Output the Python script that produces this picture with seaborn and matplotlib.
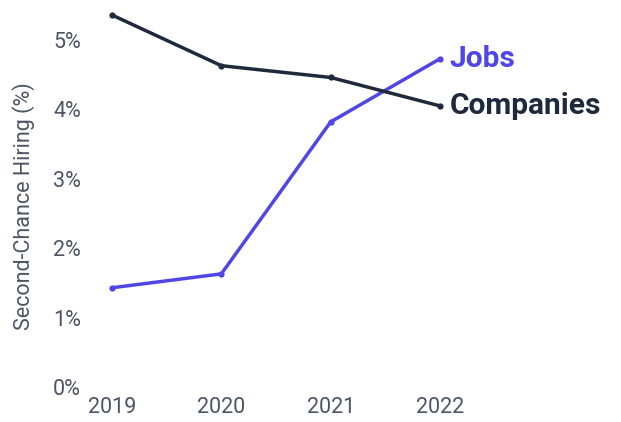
import matplotlib
matplotlib.use("Agg")
import matplotlib.pyplot as plt
import seaborn as sns
import pandas as pd

years = [2019, 2020, 2021, 2022]
jobs = [1.43, 1.63, 3.82, 4.73]
companies = [5.36, 4.63, 4.46, 4.05]
y_ticks = [0, 1, 2, 3, 4, 5]
y_tick_labels = ["0%", "1%", "2%", "3%", "4%", "5%"]

JOBS_COLOR = "#4f46e5"
COMP_COLOR = "#1e293b"
TICK_COLOR = "#4b5563"

df = pd.DataFrame({
    "year": years * 2,
    "value": jobs + companies,
    "series": ["Jobs"] * len(years) + ["Companies"] * len(years),
})

sns.set_style("white")
plt.rcParams["font.family"] = ["Roboto", "DejaVu Sans"]

fig = plt.figure(figsize=(6.21, 4.22), dpi=100)
ax = fig.add_axes([95 / 621, 35 / 422, 520 / 621, 377 / 422])

sns.lineplot(
    data=df, x="year", y="value", hue="series",
    palette={"Jobs": JOBS_COLOR, "Companies": COMP_COLOR},
    marker="o", markersize=4.5, markeredgewidth=0, linewidth=2.5,
    legend=False, ax=ax,
)

# x scale: 2019 at px 112, 2022 at px 440 within an axes spanning px 95..615
px_per_year = (440 - 112) / 3
ax.set_xlim(2019 - (112 - 95) / px_per_year, 2019 + (615 - 112) / px_per_year)
ax.set_ylim(0, 377 / 69.4)

ax.set_xticks(years)
ax.set_xticklabels([str(y) for y in years])
ax.set_yticks(y_ticks)
ax.set_yticklabels(y_tick_labels)
ax.tick_params(axis="both", length=0, labelsize=15.5, colors=TICK_COLOR)
ax.tick_params(axis="x", pad=7)
ax.tick_params(axis="y", pad=10)

ax.set_xlabel("")
ax.set_ylabel("Second-Chance Hiring (%)", fontsize=15.5, color=TICK_COLOR)
ax.yaxis.set_label_coords(-(95 - 35) / 520, (387 - 206) / 377)

for s in ax.spines.values():
    s.set_visible(False)
ax.grid(False)

# direct labels at the line ends
ax.annotate("Jobs", xy=(years[-1], jobs[-1]), xytext=(7, 0), textcoords="offset points",
            ha="left", va="center", fontsize=21.5, fontweight="bold", color=JOBS_COLOR)
ax.annotate("Companies", xy=(years[-1], companies[-1]), xytext=(7, 0), textcoords="offset points",
            ha="left", va="center", fontsize=21.5, fontweight="bold", color=COMP_COLOR)

fig.savefig("out.png", dpi=100)
